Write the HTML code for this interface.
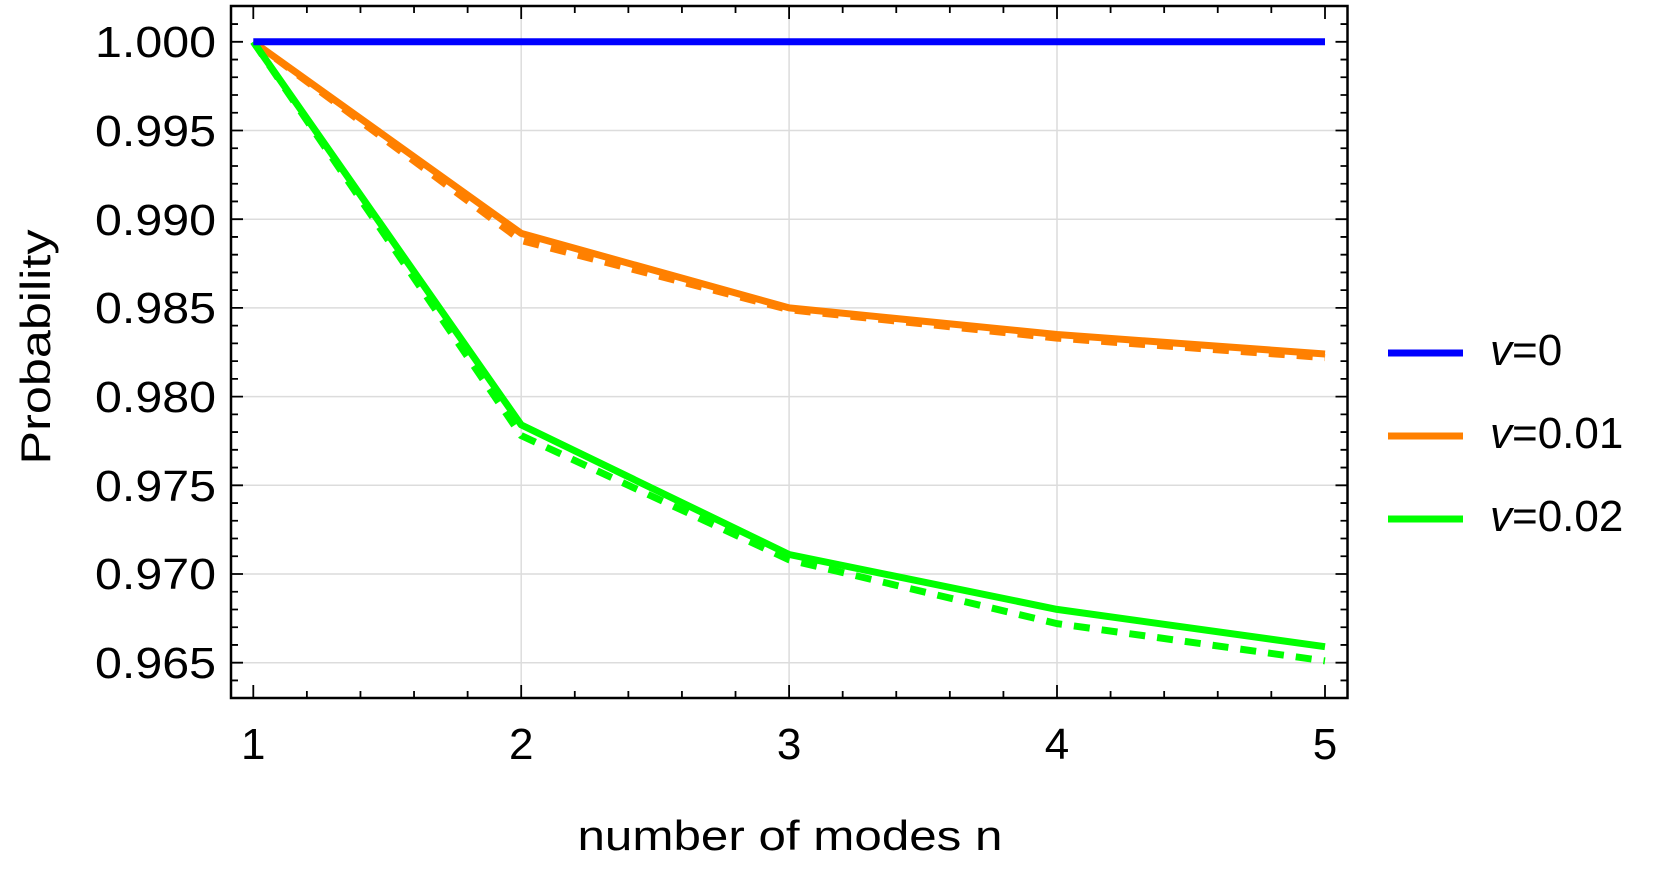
<!DOCTYPE html>
<html><head><meta charset="utf-8"><style>html,body{margin:0;padding:0;background:#fff;}svg{display:block}</style></head>
<body>
<svg width="1661" height="874" viewBox="0 0 1661 874" xmlns="http://www.w3.org/2000/svg" font-family="Liberation Sans, sans-serif">
<g stroke="#dcdcdc" stroke-width="1.5">
<line x1="231" y1="130.5" x2="1347" y2="130.5"/>
<line x1="231" y1="219.2" x2="1347" y2="219.2"/>
<line x1="231" y1="307.9" x2="1347" y2="307.9"/>
<line x1="231" y1="396.6" x2="1347" y2="396.6"/>
<line x1="231" y1="485.3" x2="1347" y2="485.3"/>
<line x1="231" y1="574" x2="1347" y2="574"/>
<line x1="231" y1="662.7" x2="1347" y2="662.7"/>
<line x1="521.2" y1="6" x2="521.2" y2="698"/>
<line x1="789.1" y1="6" x2="789.1" y2="698"/>
<line x1="1057" y1="6" x2="1057" y2="698"/>
</g>
<g stroke="#000" stroke-width="1.8" fill="none">
<path d="M231 24.06h7M231 59.54h7M231 77.28h7M231 95.02h7M231 112.76h7M231 148.24h7M231 165.98h7M231 183.72h7M231 201.46h7M231 236.94h7M231 254.68h7M231 272.42h7M231 290.16h7M231 325.64h7M231 343.38h7M231 361.12h7M231 378.86h7M231 414.34h7M231 432.08h7M231 449.82h7M231 467.56h7M231 503.04h7M231 520.78h7M231 538.52h7M231 556.26h7M231 591.74h7M231 609.48h7M231 627.22h7M231 644.96h7M231 680.44h7"/>
<path d="M1347.5 24.06h-7M1347.5 59.54h-7M1347.5 77.28h-7M1347.5 95.02h-7M1347.5 112.76h-7M1347.5 148.24h-7M1347.5 165.98h-7M1347.5 183.72h-7M1347.5 201.46h-7M1347.5 236.94h-7M1347.5 254.68h-7M1347.5 272.42h-7M1347.5 290.16h-7M1347.5 325.64h-7M1347.5 343.38h-7M1347.5 361.12h-7M1347.5 378.86h-7M1347.5 414.34h-7M1347.5 432.08h-7M1347.5 449.82h-7M1347.5 467.56h-7M1347.5 503.04h-7M1347.5 520.78h-7M1347.5 538.52h-7M1347.5 556.26h-7M1347.5 591.74h-7M1347.5 609.48h-7M1347.5 627.22h-7M1347.5 644.96h-7M1347.5 680.44h-7"/>
<path d="M231 41.8h12M231 130.5h12M231 219.2h12M231 307.9h12M231 396.6h12M231 485.3h12M231 574h12M231 662.7h12M1347.5 41.8h-12M1347.5 130.5h-12M1347.5 219.2h-12M1347.5 307.9h-12M1347.5 396.6h-12M1347.5 485.3h-12M1347.5 574h-12M1347.5 662.7h-12"/>
<path d="M306.88 698v-7M360.46 698v-7M414.04 698v-7M467.62 698v-7M574.78 698v-7M628.36 698v-7M681.94 698v-7M735.52 698v-7M842.68 698v-7M896.26 698v-7M949.84 698v-7M1003.42 698v-7M1110.58 698v-7M1164.16 698v-7M1217.74 698v-7M1271.32 698v-7"/>
<path d="M306.88 6v7M360.46 6v7M414.04 6v7M467.62 6v7M574.78 6v7M628.36 6v7M681.94 6v7M735.52 6v7M842.68 6v7M896.26 6v7M949.84 6v7M1003.42 6v7M1110.58 6v7M1164.16 6v7M1217.74 6v7M1271.32 6v7"/>
<path d="M253.3 698v-13M521.2 698v-13M789.1 698v-13M1057 698v-13M1325 698v-13M253.3 6v13M521.2 6v13M789.1 6v13M1057 6v13M1325 6v13"/>
</g>
<rect x="231" y="6" width="1116.5" height="692" fill="none" stroke="#000" stroke-width="2.5"/>
<g fill="none" stroke-width="7" stroke-linejoin="round">
<polyline stroke="#ff8000" stroke-dasharray="16,12" points="253.3,41.8 521.2,240.5 789.1,309.7 1057,338.1 1325,357.6"/>
<polyline stroke="#ff8000" points="253.3,41.8 521.2,233.4 789.1,307.9 1057,334.5 1325,354"/>
<polyline stroke="#00ff00" stroke-dasharray="16,12" points="253.3,41.8 521.2,435.6 789.1,559.8 1057,623.6 1325,660.9"/>
<polyline stroke="#00ff00" points="253.3,41.8 521.2,424.9 789.1,554.5 1057,609.4 1325,646.7"/>
<line stroke="#0000ff" x1="253.3" y1="41.8" x2="1325" y2="41.8"/>
</g>
<g font-size="44" text-anchor="end" fill="#000">
<text x="216" y="57" textLength="121" lengthAdjust="spacingAndGlyphs">1.000</text>
<text x="216" y="146" textLength="121" lengthAdjust="spacingAndGlyphs">0.995</text>
<text x="216" y="235" textLength="121" lengthAdjust="spacingAndGlyphs">0.990</text>
<text x="216" y="323" textLength="121" lengthAdjust="spacingAndGlyphs">0.985</text>
<text x="216" y="412" textLength="121" lengthAdjust="spacingAndGlyphs">0.980</text>
<text x="216" y="501" textLength="121" lengthAdjust="spacingAndGlyphs">0.975</text>
<text x="216" y="589" textLength="121" lengthAdjust="spacingAndGlyphs">0.970</text>
<text x="216" y="678" textLength="121" lengthAdjust="spacingAndGlyphs">0.965</text>
</g>
<g font-size="44" text-anchor="middle" fill="#000">
<text x="253.3" y="759">1</text><text x="521.2" y="759">2</text><text x="789.1" y="759">3</text><text x="1057" y="759">4</text><text x="1325" y="759">5</text>
</g>
<text x="790" y="850" font-size="42" text-anchor="middle" textLength="425" lengthAdjust="spacingAndGlyphs">number of modes n</text>
<text transform="translate(50,347) rotate(-90)" font-size="42" text-anchor="middle" textLength="235" lengthAdjust="spacingAndGlyphs">Probability</text>
<g stroke-width="7">
<line x1="1388" y1="353" x2="1463" y2="353" stroke="#0000ff"/>
<line x1="1388" y1="436" x2="1463" y2="436" stroke="#ff8000"/>
<line x1="1388" y1="519" x2="1463" y2="519" stroke="#00ff00"/>
</g>
<g font-size="44" fill="#000">
<text x="1490" y="365"><tspan font-style="italic">v</tspan>=0</text>
<text x="1490" y="448"><tspan font-style="italic">v</tspan>=0.01</text>
<text x="1490" y="531"><tspan font-style="italic">v</tspan>=0.02</text>
</g>
</svg>
</body></html>
